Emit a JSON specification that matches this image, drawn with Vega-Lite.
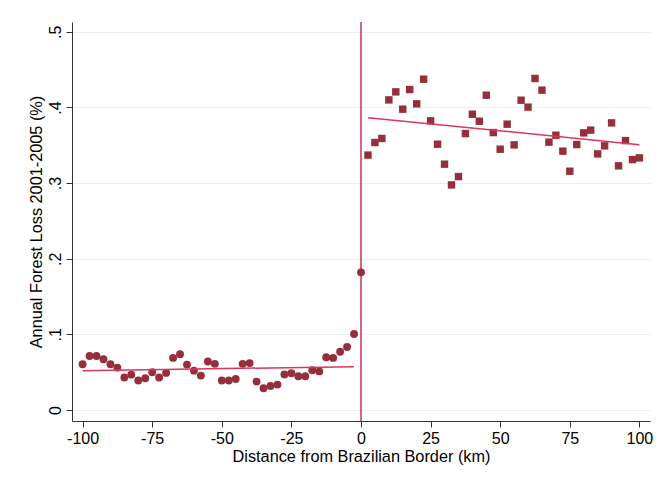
{
  "$schema": "https://vega.github.io/schema/vega-lite/v6.json",
  "autosize": "none",
  "width": 578,
  "height": 399,
  "padding": {"left": 72, "top": 22, "right": 13, "bottom": 64},
  "background": "white",
  "config": {
    "view": {"stroke": null},
    "font": "Liberation Sans",
    "axis": {
      "labelFont": "Liberation Sans",
      "titleFont": "Liberation Sans",
      "labelFontSize": 16,
      "titleFontSize": 16.3,
      "titleFontWeight": "normal",
      "labelColor": "#000",
      "titleColor": "#000",
      "domainColor": "#333",
      "tickColor": "#333",
      "tickSize": 6,
      "domainWidth": 1,
      "tickWidth": 1
    }
  },
  "datasets": {
    "pts": [
      {"x": -100, "y": 0.0604, "side": "left"},
      {"x": -97.5, "y": 0.0714, "side": "left"},
      {"x": -95, "y": 0.0714, "side": "left"},
      {"x": -92.5, "y": 0.067, "side": "left"},
      {"x": -90, "y": 0.0604, "side": "left"},
      {"x": -87.5, "y": 0.056, "side": "left"},
      {"x": -85, "y": 0.043, "side": "left"},
      {"x": -82.5, "y": 0.0467, "side": "left"},
      {"x": -80, "y": 0.039, "side": "left"},
      {"x": -77.5, "y": 0.042, "side": "left"},
      {"x": -75, "y": 0.0498, "side": "left"},
      {"x": -72.5, "y": 0.043, "side": "left"},
      {"x": -70, "y": 0.049, "side": "left"},
      {"x": -67.5, "y": 0.0688, "side": "left"},
      {"x": -65, "y": 0.0736, "side": "left"},
      {"x": -62.5, "y": 0.06, "side": "left"},
      {"x": -60, "y": 0.052, "side": "left"},
      {"x": -57.5, "y": 0.0454, "side": "left"},
      {"x": -55, "y": 0.064, "side": "left"},
      {"x": -52.5, "y": 0.061, "side": "left"},
      {"x": -50, "y": 0.039, "side": "left"},
      {"x": -47.5, "y": 0.039, "side": "left"},
      {"x": -45, "y": 0.041, "side": "left"},
      {"x": -42.5, "y": 0.061, "side": "left"},
      {"x": -40, "y": 0.062, "side": "left"},
      {"x": -37.5, "y": 0.0375, "side": "left"},
      {"x": -35, "y": 0.0287, "side": "left"},
      {"x": -32.5, "y": 0.0317, "side": "left"},
      {"x": -30, "y": 0.0335, "side": "left"},
      {"x": -27.5, "y": 0.047, "side": "left"},
      {"x": -25, "y": 0.0485, "side": "left"},
      {"x": -22.5, "y": 0.0445, "side": "left"},
      {"x": -20, "y": 0.0445, "side": "left"},
      {"x": -17.5, "y": 0.0525, "side": "left"},
      {"x": -15, "y": 0.051, "side": "left"},
      {"x": -12.5, "y": 0.0697, "side": "left"},
      {"x": -10, "y": 0.0688, "side": "left"},
      {"x": -7.5, "y": 0.077, "side": "left"},
      {"x": -5, "y": 0.0833, "side": "left"},
      {"x": -2.5, "y": 0.1005, "side": "left"},
      {"x": 0, "y": 0.182, "side": "center"},
      {"x": 2.5, "y": 0.337, "side": "right"},
      {"x": 5, "y": 0.3536, "side": "right"},
      {"x": 7.5, "y": 0.359, "side": "right"},
      {"x": 10, "y": 0.41, "side": "right"},
      {"x": 12.5, "y": 0.4206, "side": "right"},
      {"x": 15, "y": 0.3977, "side": "right"},
      {"x": 17.5, "y": 0.4237, "side": "right"},
      {"x": 20, "y": 0.4048, "side": "right"},
      {"x": 22.5, "y": 0.4374, "side": "right"},
      {"x": 25, "y": 0.3823, "side": "right"},
      {"x": 27.5, "y": 0.3514, "side": "right"},
      {"x": 30, "y": 0.325, "side": "right"},
      {"x": 32.5, "y": 0.2976, "side": "right"},
      {"x": 35, "y": 0.3086, "side": "right"},
      {"x": 37.5, "y": 0.3655, "side": "right"},
      {"x": 40, "y": 0.391, "side": "right"},
      {"x": 42.5, "y": 0.3818, "side": "right"},
      {"x": 45, "y": 0.4162, "side": "right"},
      {"x": 47.5, "y": 0.3668, "side": "right"},
      {"x": 50, "y": 0.3448, "side": "right"},
      {"x": 52.5, "y": 0.3779, "side": "right"},
      {"x": 55, "y": 0.3505, "side": "right"},
      {"x": 57.5, "y": 0.4096, "side": "right"},
      {"x": 60, "y": 0.4004, "side": "right"},
      {"x": 62.5, "y": 0.4383, "side": "right"},
      {"x": 65, "y": 0.4229, "side": "right"},
      {"x": 67.5, "y": 0.3541, "side": "right"},
      {"x": 70, "y": 0.3633, "side": "right"},
      {"x": 72.5, "y": 0.3422, "side": "right"},
      {"x": 75, "y": 0.3157, "side": "right"},
      {"x": 77.5, "y": 0.351, "side": "right"},
      {"x": 80, "y": 0.3664, "side": "right"},
      {"x": 82.5, "y": 0.37, "side": "right"},
      {"x": 85, "y": 0.3386, "side": "right"},
      {"x": 87.5, "y": 0.3492, "side": "right"},
      {"x": 90, "y": 0.3796, "side": "right"},
      {"x": 92.5, "y": 0.3228, "side": "right"},
      {"x": 95, "y": 0.3562, "side": "right"},
      {"x": 97.5, "y": 0.3311, "side": "right"},
      {"x": 100, "y": 0.3333, "side": "right"}
    ],
    "border": [{"x": 0}]
  },
  "layer": [
    {
      "data": {"name": "pts"},
      "mark": {"type": "point", "opacity": 0},
      "encoding": {
        "x": {
          "field": "x", "type": "quantitative",
          "scale": {"domain": [-103.8, 103.8], "nice": false, "zero": false},
          "axis": {
            "values": [-100, -75, -50, -25, 0, 25, 50, 75, 100],
            "labelExpr": "(datum.value < 0 ? '-' : '') + abs(datum.value)",
            "title": "Distance from Brazilian Border (km)",
            "grid": false,
            "labelPadding": 3,
            "titlePadding": 2
          }
        },
        "y": {
          "field": "y", "type": "quantitative",
          "scale": {"domain": [-0.0146, 0.513], "nice": false, "zero": false},
          "axis": {
            "values": [0, 0.1, 0.2, 0.3, 0.4, 0.5],
            "labelExpr": "datum.value == 0 ? '0' : replace(format(datum.value, '.1f'), '0.', '.')",
            "title": "Annual Forest Loss 2001-2005 (%)",
            "grid": true,
            "gridColor": "#e8f0f2",
            "gridWidth": 1.2,
            "labelAngle": -90,
            "labelAlign": "center",
            "labelBaseline": "bottom",
            "labelPadding": 3,
            "titlePadding": 3
          }
        }
      }
    },
    {
      "data": {"name": "border"},
      "mark": {"type": "rule", "color": "#b8163c", "strokeWidth": 1.3},
      "encoding": {
        "x": {"field": "x", "type": "quantitative"}
      }
    },
    {
      "data": {"name": "pts"},
      "transform": [{"filter": "datum.side != 'right'"}],
      "mark": {"type": "circle", "color": "#952f3b", "opacity": 1, "size": 62},
      "encoding": {
        "x": {"field": "x", "type": "quantitative"},
        "y": {"field": "y", "type": "quantitative"}
      }
    },
    {
      "data": {"name": "pts"},
      "transform": [{"filter": "datum.side == 'right'"}],
      "mark": {"type": "square", "color": "#952f3b", "opacity": 1, "size": 55},
      "encoding": {
        "x": {"field": "x", "type": "quantitative"},
        "y": {"field": "y", "type": "quantitative"}
      }
    },
    {
      "data": {"name": "pts"},
      "transform": [
        {"filter": "datum.side != 'center'"},
        {"regression": "y", "on": "x", "groupby": ["side"]}
      ],
      "mark": {"type": "line", "color": "#dc3560", "strokeWidth": 1.5},
      "encoding": {
        "x": {"field": "x", "type": "quantitative"},
        "y": {"field": "y", "type": "quantitative"},
        "detail": {"field": "side"}
      }
    }
  ]
}
